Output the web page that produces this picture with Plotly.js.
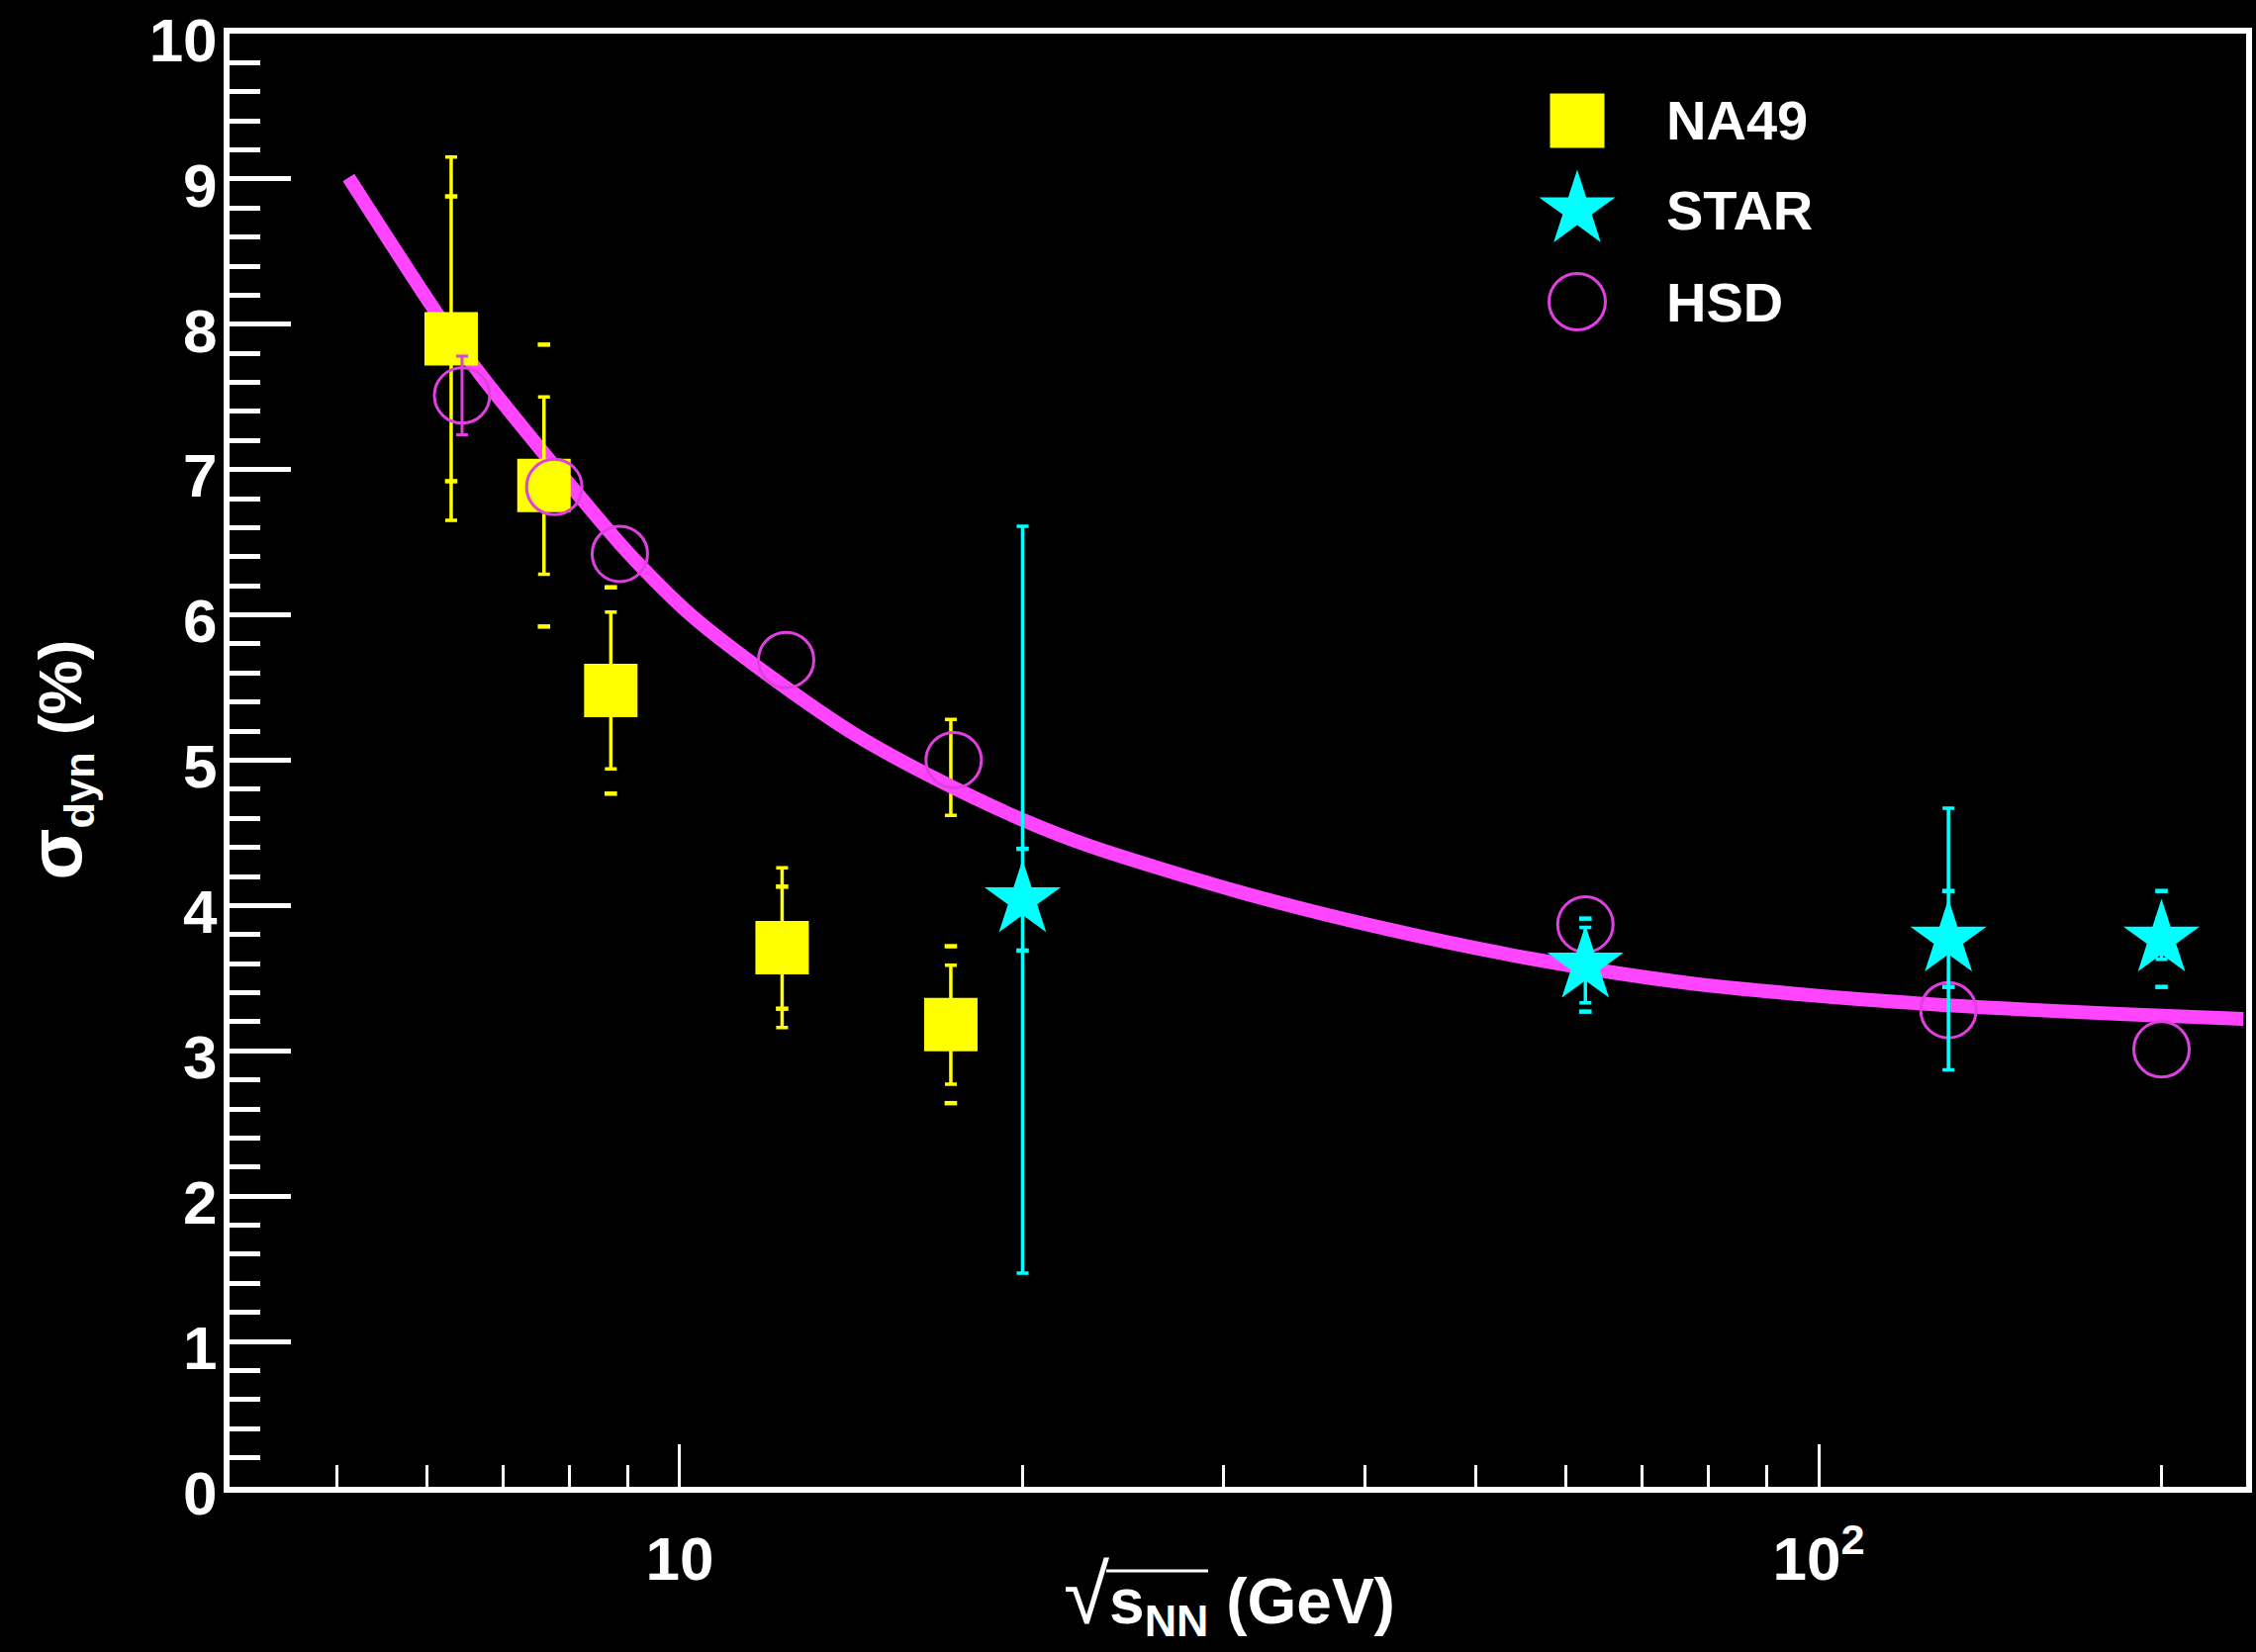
<!DOCTYPE html>
<html>
<head>
<meta charset="utf-8">
<script src="https://cdn.plot.ly/plotly-3.0.1.min.js"></script>
<style>
html, body { margin: 0; padding: 0; background: #000; }
#chart { width: 2280px; height: 1670px; }
</style>
</head>
<body>
<div id="chart"></div>
<script>
// ---------------- DATA ----------------
// NA49 (yellow squares)
const na49X = [6.3, 7.6, 8.7, 12.3, 17.3];
const na49Y = [7.90, 6.89, 5.48, 3.71, 3.18];
const na49ErrA = [1.25, 0.61, 0.54, 0.55, 0.41];   // error bar with line + caps
const na49ErrB = [0.98, 0.97, 0.71, 0.42, 0.54];   // second error drawn as caps only

// extra yellow error bar (no marker) near 17.3 GeV
const na49bX = [17.3];
const na49bY = [4.95];
const na49bErr = [0.33];

// STAR (cyan stars)
const starX = [20, 62.4, 130, 200];
const starY = [4.04, 3.59, 3.77, 3.77];
const starErrA = [2.57, 0.26, 0.90, 0.14];
const starErrB = [0.35, 0.32, 0.33, 0.33];

// HSD (open magenta circles)
const hsdX = [6.44, 7.76, 8.86, 12.4, 17.4, 62.4, 130, 200];
const hsdY = [7.51, 6.88, 6.42, 5.69, 5.00, 3.87, 3.28, 3.01];
const hsdErr = [0.27, NaN, NaN, NaN, NaN, NaN, NaN, NaN];

// HSD smooth curve
const curveX = [5.12, 6.09, 6.66, 7.62, 8.18, 8.98, 10.26, 12.04, 14.3, 16.9, 20.0, 22.9, 30.8, 41.7, 56.3, 76.2, 103, 139, 188, 236];
const curveY = [9.01, 8.10, 7.67, 7.10, 6.81, 6.44, 5.99, 5.57, 5.17, 4.86, 4.59, 4.41, 4.10, 3.84, 3.63, 3.47, 3.37, 3.30, 3.25, 3.22];

// axis ticks
const xTickVals = [10, 100];
const xTickText = ['10', '10<sup>2</sup>'];
const xMinorVals = [5, 6, 7, 8, 9, 20, 30, 40, 50, 60, 70, 80, 90, 200];
const yTickVals = [0, 1, 2, 3, 4, 5, 6, 7, 8, 9, 10];

// legend entries
const legendNames = ['NA49', 'STAR', 'HSD'];

// ---------------- STYLE ----------------
const YELLOW = '#ffff00';
const CYAN = '#00ffff';
const MAGENTA_LINE = '#ff45ff';
const MAGENTA_MK = '#e040e0';
const FONT = 'Liberation Sans, Arial, Helvetica, sans-serif';

function capsTrace(xs, ys, errs, color) {
  const x = xs.concat(xs);
  const y = ys.map((v, i) => v + errs[i]).concat(ys.map((v, i) => v - errs[i]));
  return {
    type: 'scatter', mode: 'markers', x: x, y: y, hoverinfo: 'skip',
    marker: { symbol: 'line-ew', size: 9, color: color, line: { color: color, width: 4.5 } },
    showlegend: false
  };
}

const traces = [
  {
    type: 'scatter', mode: 'markers', x: na49bX, y: na49bY,
    marker: { size: 1, color: 'rgba(0,0,0,0)' },
    error_y: { type: 'data', array: na49bErr, visible: true, color: YELLOW, thickness: 3.5, width: 6 },
    showlegend: false
  },
  {
    type: 'scatter', mode: 'lines', x: curveX, y: curveY,
    line: { color: MAGENTA_LINE, width: 14, shape: 'spline', smoothing: 0.8 },
    showlegend: false
  },
  capsTrace(na49X, na49Y, na49ErrB, YELLOW),
  {
    type: 'scatter', mode: 'markers', name: 'NA49', x: na49X, y: na49Y,
    marker: { symbol: 'square', size: 54, color: YELLOW, line: { width: 0 } },
    error_y: { type: 'data', array: na49ErrA, visible: true, color: YELLOW, thickness: 3.5, width: 6 }
  },
  {
    type: 'scatter', mode: 'markers', name: 'HSD', x: hsdX, y: hsdY,
    marker: { symbol: 'circle-open', size: 56, color: MAGENTA_MK, line: { color: MAGENTA_MK, width: 3 } },
    error_y: { type: 'data', array: hsdErr, visible: true, color: MAGENTA_MK, thickness: 3, width: 6 }
  },
  capsTrace(starX, starY, starErrB, CYAN),
  {
    type: 'scatter', mode: 'markers', name: 'STAR', x: starX, y: starY,
    marker: { symbol: 'star', size: 58, color: CYAN, line: { width: 0 } },
    error_y: { type: 'data', array: starErrA, visible: true, color: CYAN, thickness: 3.5, width: 6 }
  }
];

// custom legend (big symbols) drawn on an overlay axis in plot-fraction units
const legendSymX = 0.6683;
const legendTextX = 0.7115;
const legendRowY = [0.9401, 0.8788, 0.8155];
const legendSymbols = [
  { symbol: 'square', size: 55, color: YELLOW, line: { width: 0 } },
  { symbol: 'star', size: 58, color: CYAN, line: { width: 0 } },
  { symbol: 'circle-open', size: 57, color: MAGENTA_MK, line: { color: MAGENTA_MK, width: 3 } }
];
legendNames.forEach((n, i) => {
  traces.push({
    type: 'scatter', mode: 'markers', x: [legendSymX], y: [legendRowY[i]],
    xaxis: 'x2', yaxis: 'y2', marker: legendSymbols[i], showlegend: false, hoverinfo: 'skip'
  });
});

const annotations = legendNames.map((n, i) => ({
  xref: 'paper', yref: 'paper', x: legendTextX, y: legendRowY[i],
  xanchor: 'left', yanchor: 'middle', showarrow: false, text: n,
  font: { family: FONT, size: 56, color: '#fff', weight: 'bold' }
}));

// axis titles
annotations.push({
  xref: 'paper', yref: 'paper', x: 0, y: 0.5, xshift: -174,
  xanchor: 'center', yanchor: 'middle', textangle: -90, showarrow: false,
  text: '<span style="font-size:76px">σ</span><sub>dyn</sub> (%)',
  font: { family: FONT, size: 62, color: '#fff', weight: 'bold' }
});
annotations.push({
  xref: 'paper', yref: 'paper', x: 0.4956, y: 0, yshift: -111,
  xanchor: 'center', yanchor: 'middle', showarrow: false,
  text: '<span style="font-size:84px;font-weight:normal">√</span>s<sub>NN</sub> (GeV)',
  font: { family: FONT, size: 64, color: '#fff', weight: 'bold' }
});

const layout = {
  width: 2280, height: 1670,
  paper_bgcolor: '#000', plot_bgcolor: '#000',
  margin: { l: 232, r: 10, t: 34, b: 167, pad: 0 },
  showlegend: false,
  font: { family: FONT, color: '#fff', size: 60, weight: 'bold' },
  xaxis: {
    type: 'log', range: [Math.log10(4.025), Math.log10(237.3)],
    tickmode: 'array', tickvals: xTickVals, ticktext: xTickText,
    ticks: 'inside', ticklen: 43, tickwidth: 3, tickcolor: '#fff',
    showline: true, linecolor: '#fff', linewidth: 6, mirror: true,
    showgrid: false, zeroline: false,
    tickfont: { family: FONT, size: 62, color: '#fff', weight: 'bold' },
    ticklabelstandoff: 14, ticklabeloverflow: 'allow',
    minor: { tickmode: 'array', tickvals: xMinorVals, ticks: 'inside', ticklen: 22, tickwidth: 3, tickcolor: '#fff', showgrid: false }
  },
  yaxis: {
    range: [0, 10], tickmode: 'array', tickvals: yTickVals,
    ticks: 'inside', ticklen: 62, tickwidth: 5, tickcolor: '#fff',
    showline: true, linecolor: '#fff', linewidth: 6, mirror: true,
    showgrid: false, zeroline: false,
    tickfont: { family: FONT, size: 62, color: '#fff', weight: 'bold' },
    ticklabelstandoff: -6, ticklabelshift: 6, ticklabeloverflow: 'allow',
    minor: { dtick: 0.2, ticks: 'inside', ticklen: 31, tickwidth: 5, tickcolor: '#fff', showgrid: false }
  },
  xaxis2: { overlaying: 'x', anchor: 'y2', range: [0, 1], visible: false, showgrid: false, zeroline: false },
  yaxis2: { overlaying: 'y', anchor: 'x2', range: [0, 1], visible: false, showgrid: false, zeroline: false },
  annotations: annotations,
  shapes: [
    // overline of the square-root sign in the x title
    { type: 'line', xref: 'paper', yref: 'paper', xsizemode: 'pixel', ysizemode: 'pixel',
      xanchor: 0, yanchor: 0, x0: 886, x1: 989, y0: -85, y1: -85,
      line: { color: '#fff', width: 3 } }
  ]
};

Plotly.newPlot('chart', traces, layout, { staticPlot: true, displayModeBar: false });
</script>
</body>
</html>
